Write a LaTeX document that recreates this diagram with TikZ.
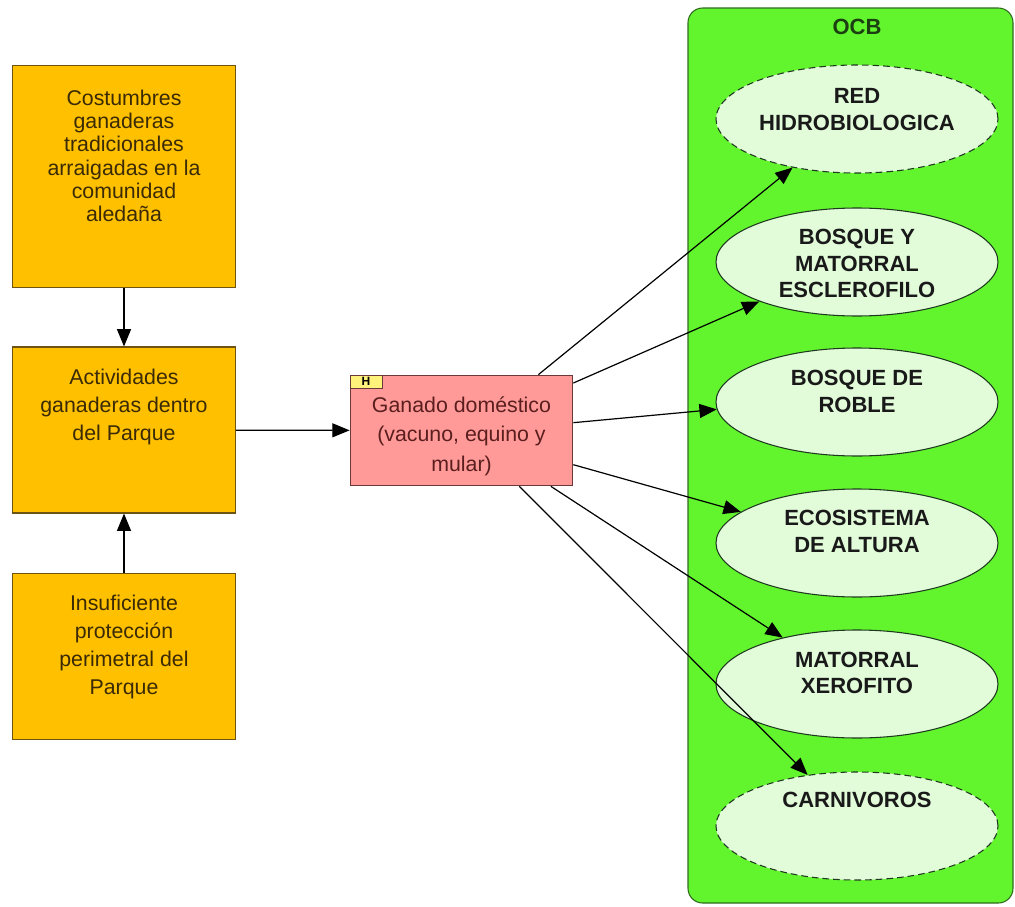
\documentclass[tikz,border=0pt]{standalone}
\usepackage{fontspec}
\setmainfont{Liberation Sans}
\usetikzlibrary{arrows.meta}
\usetikzlibrary{positioning}
\usetikzlibrary{shapes.geometric}

\definecolor{causefill}{HTML}{FFC000}
\definecolor{causeline}{HTML}{6E5412}
\definecolor{causetxt}{HTML}{3A2A05}
\definecolor{threatfill}{HTML}{FF9A98}
\definecolor{threatline}{HTML}{6A3A3A}
\definecolor{threattxt}{HTML}{5A1E1E}
\definecolor{ocbfill}{HTML}{62F52E}
\definecolor{ocbline}{HTML}{2F6A1E}
\definecolor{targetfill}{HTML}{E2FCDA}
\definecolor{targetline}{HTML}{1E3A1E}
\definecolor{tagfill}{HTML}{FFF27A}

\tikzset{
  causebox/.style={draw=causeline, fill=causefill, line width=0.8pt,
    minimum width=167pt, inner sep=0pt},
  causetext/.style={align=center, text=causetxt, inner sep=0pt,
    font=\fontsize{16pt}{21pt}\selectfont},
  threatbox/.style={draw=threatline, fill=threatfill, line width=0.8pt,
    minimum width=167pt, minimum height=83pt, inner sep=0pt},
  targetell/.style={ellipse, draw=targetline, fill=targetfill, line width=0.8pt,
    minimum width=211.5pt, minimum height=81pt, inner sep=0pt},
  targettext/.style={align=center, text=black!90, inner sep=0pt,
    font=\fontsize{16.5pt}{20pt}\selectfont\bfseries},
  arr/.style={-{Triangle[length=13pt,width=10.5pt]}, line width=0.9pt}
}

\begin{document}
\begin{tikzpicture}[x=0.75pt, y=-0.75pt]
  \useasboundingbox (0,0) rectangle (1015,907);

  % causes
  \node[causebox, minimum height=167pt] (cost) at (124,176.5) {};
  \node[causetext, font=\fontsize{16pt}{17.5pt}\selectfont, below=18.5pt of cost.north] (costtxt)
    {Costumbres\\ganaderas\\tradicionales\\arraigadas en la\\comunidad\\aledaña};

  \node[causebox, minimum height=124.5pt] (act) at (124,430) {};
  \node[causetext, below=17pt of act.north] (acttxt)
    {Actividades\\ganaderas dentro\\del Parque};

  \node[causebox, minimum height=125pt] (insuf) at (124,656.5) {};
  \node[causetext, below=16.5pt of insuf.north] (insuftxt)
    {Insuficiente\\protección\\perimetral del\\Parque};

  % direct threat
  \node[threatbox] (ganado) at (461.5,430.5) {};
  \node[causetext, text=threattxt, font=\fontsize{16pt}{22pt}\selectfont,
    below=16.5pt of ganado.north] (ganadotxt)
    {Ganado doméstico\\(vacuno, equino y\\mular)};
  \node[draw=threatline, fill=tagfill, line width=0.6pt, anchor=north west,
    minimum width=24pt, minimum height=9.75pt, inner sep=0pt,
    font=\fontsize{9pt}{9pt}\selectfont\bfseries] (tag) at (ganado.north west) {H};

  % conservation targets
  \node[draw=ocbline, fill=ocbfill, line width=0.8pt, rounded corners=11pt,
    minimum width=243.75pt, minimum height=671.25pt] (ocb) at (850.5,455.5) {};
  \node[font=\fontsize{16.5pt}{20pt}\selectfont\bfseries, text=ocbline!60!black]
    (ocbtxt) at (857,27) {OCB};

  \node[targetell, dashed, dash pattern=on 5pt off 3pt] (red) at (857,119) {};
  \node[targettext, below=18pt of red.north] (redtxt) {RED\\HIDROBIOLOGICA};

  \node[targetell] (esclero) at (857,262) {};
  \node[targettext, below=16pt of esclero.north] (esclerotxt)
    {BOSQUE Y\\MATORRAL\\ESCLEROFILO};

  \node[targetell] (roble) at (857,402) {};
  \node[targettext, below=17pt of roble.north] (robletxt) {BOSQUE DE\\ROBLE};

  \node[targetell] (altura) at (857,543) {};
  \node[targettext, below=16pt of altura.north] (alturatxt) {ECOSISTEMA\\DE ALTURA};

  \node[targetell] (xero) at (857,684) {};
  \node[targettext, below=16.5pt of xero.north] (xerotxt) {MATORRAL\\XEROFITO};

  \node[targetell, dashed, dash pattern=on 5pt off 3pt] (carn) at (857,826) {};
  \node[targettext, below=15pt of carn.north] (carntxt) {CARNIVOROS};

  % connectors
  \draw[arr] (cost) -- (act);
  \draw[arr] (insuf) -- (act);
  \draw[arr] (act) -- (ganado);

  \draw[arr] (ganado.36.3) -- (red.217);
  \draw[arr] (ganado.23.1) -- (esclero.202.5);
  \draw[arr] (ganado.4.4) -- (roble.183);
  \draw[arr] (ganado.343.3) -- (altura.165);
  \draw[arr] (ganado.328.5) -- (xero.148);
  \draw[arr] (ganado.316.5) -- (carn.134);
\end{tikzpicture}
\end{document}
